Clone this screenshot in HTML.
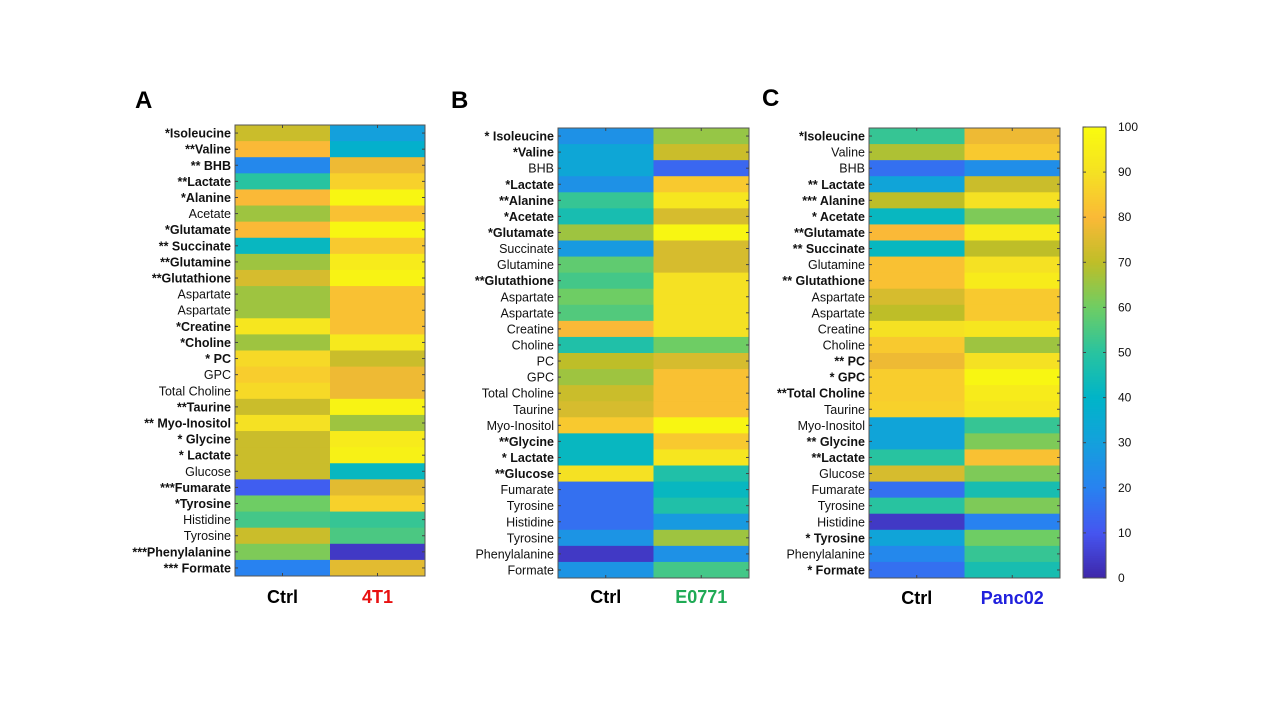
<!DOCTYPE html>
<html><head><meta charset="utf-8"><style>
body{margin:0;background:#fff;width:1280px;height:720px;overflow:hidden;font-family:"Liberation Sans",Arial,sans-serif}
</style></head><body>
<svg id="chart" width="1280" height="720" xmlns="http://www.w3.org/2000/svg" font-family="Liberation Sans, Arial, sans-serif"></svg>
<script>
const labelsA = ["*Isoleucine","**Valine","** BHB","**Lactate","*Alanine","Acetate","*Glutamate","** Succinate","**Glutamine","**Glutathione","Aspartate","Aspartate","*Creatine","*Choline","* PC","GPC","Total Choline","**Taurine","** Myo-Inositol","* Glycine","* Lactate","Glucose","***Fumarate","*Tyrosine","Histidine","Tyrosine","***Phenylalanine","*** Formate"];
const ctrlA = [72,80,22,50,80,66,80,42,66,74,66,66,92,66,88,85,88,72,90,72,72,72,12,60,54,72,62,20];
const tumorA = [30,38,78,86,98,82,98,84,94,97,82,82,82,93,72,78,78,97,66,94,96,42,76,86,52,55,4,76];
const labelsB = ["* Isoleucine","*Valine","BHB","*Lactate","**Alanine","*Acetate","*Glutamate","Succinate","Glutamine","**Glutathione","Aspartate","Aspartate","Creatine","Choline","PC","GPC","Total Choline","Taurine","Myo-Inositol","**Glycine","* Lactate","**Glucose","Fumarate","Tyrosine","Histidine","Tyrosine","Phenylalanine","Formate"];
const ctrlB = [25,33,33,25,52,46,66,28,58,54,60,56,80,48,70,66,72,74,84,42,42,90,16,16,16,26,4,26];
const tumorB = [65,72,14,84,92,74,98,74,74,90,90,90,90,60,74,82,82,82,98,84,92,48,42,48,28,66,25,54];
const labelsC = ["*Isoleucine","Valine","BHB","** Lactate","*** Alanine","* Acetate","**Glutamate","** Succinate","Glutamine","** Glutathione","Aspartate","Aspartate","Creatine","Choline","** PC","* GPC","**Total Choline","Taurine","Myo-Inositol","** Glycine","**Lactate","Glucose","Fumarate","Tyrosine","Histidine","* Tyrosine","Phenylalanine","* Formate"];
const ctrlC = [52,68,16,32,70,42,80,42,82,82,74,70,90,84,78,85,85,86,32,32,50,74,16,50,4,32,22,16];
const tumorC = [78,84,24,72,90,62,94,70,90,94,84,84,92,66,90,98,94,92,52,62,82,62,46,62,20,60,52,46];
const colorTicks = [0,10,20,30,40,50,60,70,80,90,100];

const NS="http://www.w3.org/2000/svg";
const svg=document.getElementById('chart');
const stops=[[62,38,168],[70,85,240],[40,130,240],[20,160,220],[0,180,200],[40,195,160],[110,205,100],[190,190,40],[250,185,55],[245,225,35],[249,251,14]];
function parula(v){let t=Math.max(0,Math.min(100,v))/10;let i=Math.min(9,Math.floor(t));let f=t-i;const a=stops[i],b=stops[i+1];return `rgb(${a.map((c,k)=>Math.round(c+(b[k]-c)*f)).join(',')})`;}
function mk(tag,attrs,parent){const e=document.createElementNS(NS,tag);for(const k in attrs)e.setAttribute(k,attrs[k]);(parent||svg).appendChild(e);return e;}

function panel(id,letter,x0,y0,w,h,labels,c1,c2,tumorName,tumorColor,letterX,letterY,xlY){
  const g=mk('g',{});
  
  
  const n=labels.length, rh=h/n, cw=w/2;
  const y=i=>y0+i*rh;
  [c1,c2].forEach((arr,ci)=>{
    arr.forEach((v,i)=>{
      const r=mk('rect',{x:x0+ci*cw,y:y(i),width:cw+0.5,height:rh+0.5,fill:parula(v)},g);
      
      
    });
  });
  const fr=mk('rect',{x:x0,y:y0,width:w,height:h,fill:'none',stroke:'#555','stroke-width':1},g);
  
  
  labels.forEach((l,i)=>{
    const yc=y(i)+rh/2;
    mk('line',{x1:x0,x2:x0+3,y1:yc,y2:yc,stroke:'#444'},g);
    mk('line',{x1:x0+w-3,x2:x0+w,y1:yc,y2:yc,stroke:'#444'},g);
    const bold=l.includes('*');
    const t=mk('text',{x:x0-4,y:yc+4.5,'text-anchor':'end','font-size':12.5,'font-weight':bold?'bold':'normal',fill:'#111'},g);
    t.textContent=l;
    
    
  });
  [0,1].forEach(ci=>{const xc=x0+cw*ci+cw/2;mk('line',{x1:xc,x2:xc,y1:y0,y2:y0+3,stroke:'#444'},g);mk('line',{x1:xc,x2:xc,y1:y0+h-3,y2:y0+h,stroke:'#444'},g);});
  const L=mk('text',{x:letterX,y:letterY,'font-size':24,'font-weight':'bold',fill:'#000'},g);L.textContent=letter;
  
  
  const a=mk('text',{x:x0+cw/2,y:xlY,'text-anchor':'middle','font-size':18,'font-weight':'bold',fill:'#000'},g);a.textContent='Ctrl';
  
  
  const b=mk('text',{x:x0+cw*1.5,y:xlY,'text-anchor':'middle','font-size':18,'font-weight':'bold',fill:tumorColor},g);b.textContent=tumorName;
  
  
}
panel('a','A',235,125,190,451,labelsA,ctrlA,tumorA,'4T1','#e81010',135,108,603);
panel('b','B',558,128,191,450,labelsB,ctrlB,tumorB,'E0771','#1faa55',451,108,603);
panel('c','C',869,128,191,450,labelsC,ctrlC,tumorC,'Panc02','#2020dd',762,106,604);

// colorbar
const cb=mk('g',{});


const cbx=1083,cby=127,cbw=23,cbh=451;
const cy=v=>cby+cbh-(v/100)*cbh;
for(let v=0;v<100;v+=0.5){mk('rect',{x:cbx,y:cy(v+0.5),width:cbw,height:cbh/200+0.5,fill:parula(v+0.25)},cb);}
mk('rect',{x:cbx,y:cby,width:cbw,height:cbh,fill:'none',stroke:'#555'},cb);
colorTicks.forEach(v=>{
  mk('line',{x1:cbx,x2:cbx+3,y1:cy(v),y2:cy(v),stroke:'#444'},cb);
  mk('line',{x1:cbx+cbw-3,x2:cbx+cbw,y1:cy(v),y2:cy(v),stroke:'#444'},cb);
  const t=mk('text',{x:cbx+cbw+12,y:cy(v)+4,'font-size':12,fill:'#111'},cb);t.textContent=v;
  
  
});
</script>
</body></html>
